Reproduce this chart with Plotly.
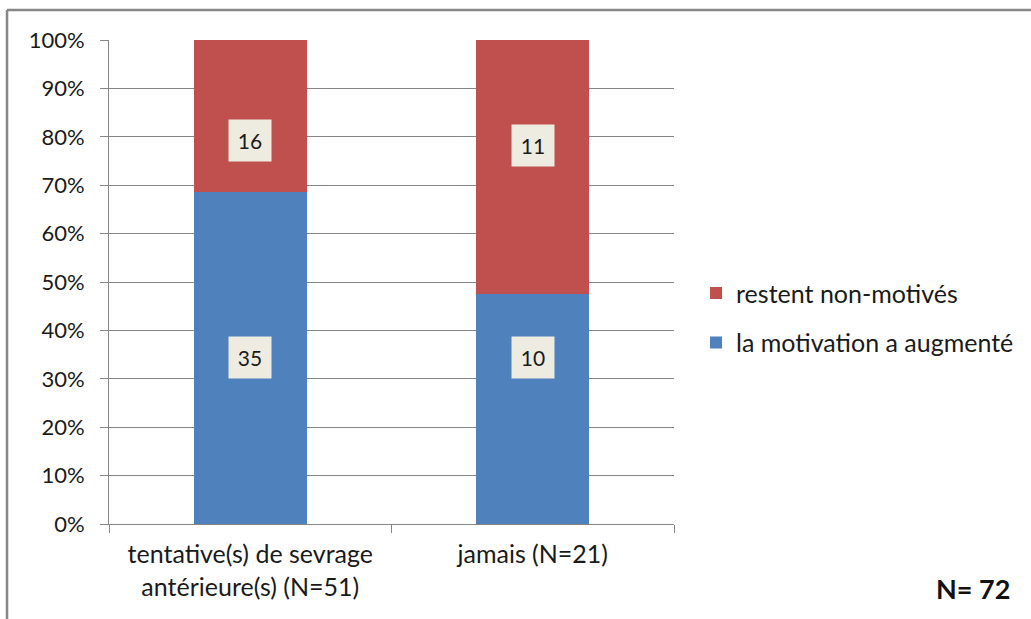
import plotly.graph_objects as go

categories = ["tentative(s) de sevrage<br>antérieure(s) (N=51)", "jamais (N=21)"]
motivated = [35, 10]
not_motivated = [16, 11]
series_names = ["la motivation a augmenté", "restent non-motivés"]
total_label = "N= 72"

# hand-placed label heights (percent of bar), as in the original chart
motivated_label_y = [34.5, 34.5]
not_motivated_label_y = [79.3, 78.3]

BLUE = "#4F81BD"
RED = "#C0504D"
GRID = "#868686"
FONT = "Lato, Carlito, Calibri, sans-serif"

fig = go.Figure()

fig.add_trace(go.Bar(
    x=categories, y=motivated, name=series_names[0], legendgroup="a", legendrank=2,
    marker=dict(color=BLUE, line=dict(width=0)), width=0.4,
))
fig.add_trace(go.Bar(
    x=categories, y=not_motivated, name=series_names[1], legendgroup="b", legendrank=1,
    marker=dict(color=RED, line=dict(width=0)), width=0.4,
))

# value labels in boxes
for vals, ys in [(motivated, motivated_label_y), (not_motivated, not_motivated_label_y)]:
    for cat, v, yy in zip(categories, vals, ys):
        fig.add_annotation(
            x=cat, y=yy, text=str(v), showarrow=False,
            bgcolor="#EEECE1", width=40, height=39,
            font=dict(family=FONT, size=21, color="#1a1a1a"),
        )

fig.add_annotation(
    xref="paper", yref="paper", x=1.598, y=-0.133,
    xanchor="right", yanchor="middle", text="<b>" + total_label + "</b>",
    showarrow=False, font=dict(family=FONT, size=27, color="#111111"),
)

# outer chart frame (left and top edges visible)
fig.add_shape(type="line", xref="paper", yref="paper",
              x0=-0.1805, x1=-0.1805, y0=1.062, y1=-0.25,
              line=dict(color=GRID, width=2.5))
fig.add_shape(type="line", xref="paper", yref="paper",
              x0=-0.1805, x1=1.7, y0=1.062, y1=1.062,
              line=dict(color=GRID, width=2.5))

fig.update_layout(
    barmode="stack",
    barnorm="percent",
    width=1031, height=619,
    margin=dict(l=109, r=357, t=40, b=95),
    paper_bgcolor="white",
    plot_bgcolor="white",
    font=dict(family=FONT, size=25, color="#1a1a1a"),
    showlegend=True,
    legend=dict(
        x=1.039, y=0.426, xanchor="left", yanchor="middle",
        traceorder="grouped", font=dict(family=FONT, size=25),
        tracegroupgap=14,
    ),
    xaxis=dict(
        showline=True, linecolor=GRID, linewidth=1,
        ticks="outside", tickson="boundaries", ticklen=8, tickcolor=GRID,
        showgrid=False, ticklabelstandoff=8,
    ),
    yaxis=dict(
        range=[0, 100], dtick=10, ticksuffix="%",
        showline=True, linecolor=GRID, linewidth=1,
        ticks="outside", ticklen=8, tickcolor=GRID,
        showgrid=True, gridcolor=GRID, gridwidth=1,
        zeroline=False, tickfont=dict(size=22), ticklabelstandoff=11,
    ),
)

fig.write_html("out.html", config={"displayModeBar": False},
               post_script="document.body.style.margin='0';")
